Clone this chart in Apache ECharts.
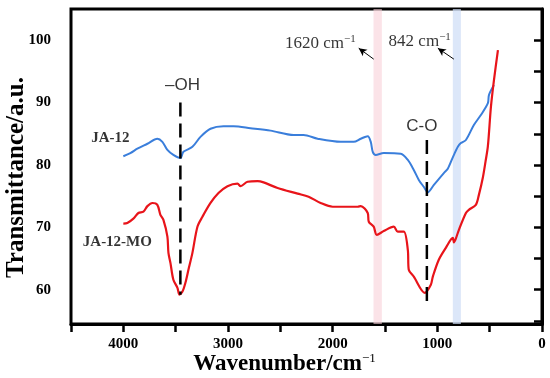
<!DOCTYPE html>
<html><head><meta charset="utf-8">
<script src="https://cdn.jsdelivr.net/npm/echarts@6/dist/echarts.min.js"></script>
<style>html,body{margin:0;padding:0;background:#fff}#c{width:550px;height:378px}</style>
</head><body><div id="c"></div>
<script>
// JA-12 (blue) spectrum: wavenumber (cm-1) and transmittance
const blueX = [4000,3933,3866,3770,3675,3627,3579,3522,3455,3426,3340,3263,3167,3043,2947,2785,2593,2373,2278,2144,1923,1799,1732,1665,1636,1617,1589,1512,1349,1282,1225,1177,1130,1091,1033,938,900,850,804,775,727,651,584,517,507,459];
const blueY = [81.4,81.9,82.6,83.4,84.2,83.7,82.4,81.6,81.1,82.1,82.9,84.5,85.8,86.2,86.2,85.9,85.5,84.8,84.8,84.2,83.7,83.7,84.2,84.6,83.7,82.1,81.6,81.9,81.8,80.8,79.2,77.6,76.5,75.6,76.8,78.7,79.4,81.3,82.9,83.5,84.0,86.4,88.0,89.9,91.2,92.8];
// JA-12-MO (red) spectrum
const redX = [4000,3962,3904,3856,3808,3770,3722,3675,3646,3617,3579,3569,3550,3522,3483,3464,3435,3407,3378,3340,3292,3244,3167,3091,3005,2909,2880,2813,2718,2660,2526,2335,2230,2115,2000,1761,1732,1665,1655,1608,1579,1512,1416,1378,1320,1282,1273,1225,1120,1062,1043,986,919,852,842,823,794,727,699,632,603,565,540,517,488,459,421];
const redY = [70.6,70.7,71.4,72.3,72.5,73.4,73.9,73.6,72.0,71.2,68.5,65.9,64.3,61.6,60.3,59.2,59.7,61.1,63.2,65.9,70.1,71.7,73.9,75.5,76.6,77.0,76.6,77.3,77.4,77.2,76.3,75.4,74.9,73.9,73.3,73.3,73.4,72.3,70.9,70.1,68.8,69.4,70.1,69.3,69.3,66.4,63.2,62.1,59.5,60.8,62.1,64.8,66.7,68.3,67.6,68.2,69.6,72.3,72.8,73.6,75.2,78.0,80.5,83.0,89.3,93.6,98.4];
// dashed guide lines [x, yTop, yBottom]
const ohLine = [3455, 90.0, 59.2];
const coLine = [1100, 84.0, 57.9];
// highlighted bands [from, to]
const band1620 = [1610, 1530];
const band842 = [852, 775];
// axis ticks
const yTickValues = [55,60,65,70,75,80,85,90,95,100];
const yLabelValues = [60,70,80,90,100];

const serif = '"Times New Roman","Liberation Serif",serif';
const sans = 'Arial,"Liberation Sans",sans-serif';
const zip = (a,b) => a.map((v,i)=>[v,b[i]]);

const chart = echarts.init(document.getElementById('c'));
chart.setOption({
  animation:false,
  grid:{left:71,right:8,top:9,bottom:54,containLabel:false,outerBoundsMode:'none',
    show:true,borderColor:'#000',borderWidth:3,backgroundColor:'transparent'},
  xAxis:{type:'value',min:0,max:4500,interval:500,inverse:true,
    axisLine:{lineStyle:{color:'#000',width:3}},
    axisTick:{length:8,lineStyle:{color:'#000',width:2.5}},
    splitLine:{show:false},
    axisLabel:{margin:13,color:'#000',fontFamily:serif,fontWeight:'bold',fontSize:15,
      formatter:v=> (v%1000===0 ? String(v) : '')},
    name:'{a|Wavenumber/cm}{s|−1}',nameLocation:'middle',nameGap:28,nameMoveOverlap:false,
    nameTextStyle:{padding:[0,44,0,0],rich:{
      a:{fontFamily:serif,fontWeight:'bold',fontSize:23,color:'#000'},
      s:{fontFamily:serif,fontSize:13,color:'#000',padding:[0,0,12,0]}}}
  },
  yAxis:{type:'value',min:54.5,max:105,
    axisLine:{show:true,lineStyle:{color:'#000',width:3}},
    axisTick:{show:true,length:8,customValues:yTickValues,lineStyle:{color:'#000',width:2.5}},
    splitLine:{show:false},
    axisLabel:{margin:20,customValues:yLabelValues,color:'#000',fontFamily:serif,fontWeight:'bold',fontSize:15},
    name:'Transmittance/a.u.',nameLocation:'middle',nameGap:42,nameMoveOverlap:false,
    nameTextStyle:{fontFamily:serif,fontWeight:'bold',fontSize:25,color:'#000',padding:[0,22,0,0]}
  },
  series:[
    {type:'line',name:'bands',data:[],z:1,silent:true,
      markArea:{silent:true,data:[
        [{xAxis:band1620[0],itemStyle:{color:'rgba(248,208,216,0.6)'}},{xAxis:band1620[1]}],
        [{xAxis:band842[0],itemStyle:{color:'rgba(205,221,246,0.7)'}},{xAxis:band842[1]}]
      ]}},
    {type:'line',name:'JA-12',data:zip(blueX,blueY),symbol:'none',smooth:0.3,z:3,
      lineStyle:{color:'#3a7edb',width:2}},
    {type:'line',name:'JA-12-MO',data:zip(redX,redY),symbol:'none',smooth:0.3,z:3,
      lineStyle:{color:'#e8141a',width:2.2}},
    {type:'line',name:'OH',data:[[ohLine[0],ohLine[1]],[ohLine[0],ohLine[2]]],symbol:'none',z:4,
      lineStyle:{color:'#000',width:2.5,type:[14,7]}},
    {type:'line',name:'CO',data:[[coLine[0],coLine[1]],[coLine[0],coLine[2]]],symbol:'none',z:4,
      lineStyle:{color:'#000',width:2.5,type:[14,7]},
      markLine:{silent:true,symbol:['none','arrow'],symbolSize:[6,8],label:{show:false},
        lineStyle:{color:'#000',width:1,type:'solid'},
        data:[
          [{coord:[1608,96.96]},{coord:[1751,98.72]}],
          [{coord:[842,96.96]},{coord:[995,98.72]}]
        ]}},
    {type:'scatter',name:'labels',symbolSize:0,z:5,silent:true,
      label:{show:true,position:'inside',color:'#000'},
      data:[
        {value:[3435,92.8],label:{formatter:'–OH',color:'#000',fontFamily:sans,fontSize:17}},
        {value:[1148,86.2],label:{formatter:'C-O',color:'#000',fontFamily:sans,fontSize:17}},
        {value:[4124,84.3],label:{formatter:'JA-12',color:'#000',fontFamily:serif,fontWeight:'bold',fontSize:15}},
        {value:[4057,67.7],label:{formatter:'JA-12-MO',color:'#000',fontFamily:serif,fontWeight:'bold',fontSize:15}},
        {value:[1780,99.5],label:{position:'left',distance:0,color:'#000',formatter:'{a|1620 cm}{s|−1}',
          rich:{a:{fontFamily:serif,fontSize:17,color:'#000'},s:{fontFamily:serif,fontSize:11,color:'#000',padding:[0,0,9,0]}}}},
        {value:[871,99.8],label:{position:'left',distance:0,color:'#000',formatter:'{a|842 cm}{s|−1}',
          rich:{a:{fontFamily:serif,fontSize:17,color:'#000'},s:{fontFamily:serif,fontSize:11,color:'#000',padding:[0,0,9,0]}}}}
      ]}
  ]
});
</script></body></html>
